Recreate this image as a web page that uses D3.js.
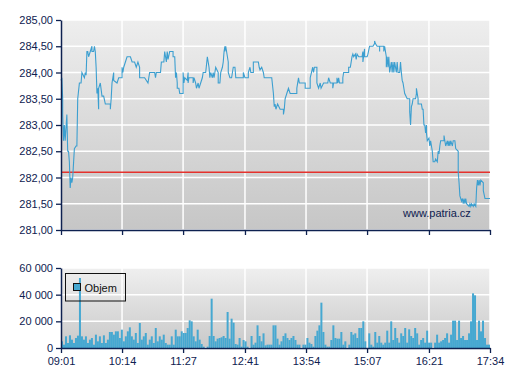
<!DOCTYPE html>
<html><head><meta charset="utf-8">
<script src="https://cdn.jsdelivr.net/npm/d3@7"></script>
<style>
body{margin:0;background:#fff}
svg{display:block;font-family:Arial,"Liberation Sans",sans-serif}
</style>
</head><body>
<svg id="c" width="507" height="380"></svg>
<script>
// ---- data ----
const times = [
"09:01","09:02","09:03","09:03","09:04","09:05","09:06","09:08","09:09","09:10",
"09:11","09:12","09:13","09:14","09:15","09:17","09:19","09:20","09:21","09:23",
"09:25","09:26","09:29","09:30","09:31","09:32","09:33","09:34","09:36","09:38",
"09:38","09:40","09:41","09:42","09:43","09:44","09:45","09:46","09:46","09:48",
"09:50","09:52","09:54","10:00","10:00","10:01","10:02","10:04","10:04","10:08",
"10:10","10:14","10:14","10:15","10:16","10:18","10:20","10:24","10:26","10:29",
"10:31","10:33","10:35","10:35","10:41","10:45","10:46","10:47","10:53","10:54",
"10:55","11:00","11:01","11:04","11:05","11:07","11:08","11:09","11:11","11:15",
"11:15","11:17","11:18","11:19","11:20","11:20","11:22","11:23","11:27","11:27",
"11:28","11:29","11:32","11:33","11:33","11:34","11:39","11:39","11:40","11:42",
"11:43","11:45","11:46","11:48","11:50","11:51","11:54","11:56","11:57","11:58",
"11:59","12:00","12:02","12:03","12:04","12:05","12:06","12:09","12:09","12:11",
"12:12","12:14","12:15","12:16","12:17","12:17","12:18","12:19","12:21","12:21",
"12:23","12:25","12:27","12:29","12:30","12:39","12:39","12:41","12:45","12:45",
"12:47","12:48","12:51","12:51","12:57","12:58","12:59","13:01","13:03","13:04",
"13:13","13:15","13:16","13:17","13:18","13:20","13:23","13:27","13:27","13:28",
"13:29","13:31","13:33","13:35","13:43","13:43","13:45","13:46","13:53","13:53",
"13:59","13:59","14:02","14:03","14:04","14:07","14:07","14:09","14:11","14:12",
"14:15","14:20","14:21","14:23","14:26","14:26","14:27","14:31","14:31","14:32",
"14:33","14:34","14:38","14:38","14:39","14:45","14:45","14:47","14:49","14:50",
"14:51","14:53","14:54","14:55","14:57","15:01","15:02","15:02","15:04","15:04",
"15:07","15:08","15:10","15:14","15:16","15:16","15:17","15:19","15:22","15:22",
"15:22","15:27","15:27","15:28","15:30","15:30","15:31","15:32","15:33","15:34",
"15:36","15:37","15:38","15:39","15:40","15:42","15:43","15:44","15:46","15:47",
"15:48","15:49","15:50","15:51","15:52","15:55","15:58","15:58","15:59","16:00",
"16:01","16:02","16:05","16:06","16:06","16:07","16:08","16:08","16:12","16:13",
"16:14","16:15","16:16","16:17","16:18","16:18","16:19","16:21","16:22","16:23",
"16:25","16:26","16:28","16:29","16:31","16:32","16:33","16:34","16:35","16:39",
"16:39","16:40","16:41","16:43","16:44","16:45","16:46","16:47","16:49","16:50",
"16:52","16:53","16:56","16:56","16:57","16:58","17:00","17:01","17:02","17:03",
"17:04","17:05","17:06","17:09","17:10","17:11","17:12","17:14","17:15","17:17",
"17:18","17:19","17:20","17:21","17:22","17:23","17:26","17:26","17:28","17:34"
];
const prices = [
283.85,283.9,283.5,283.2,282.7,283.0,282.7,283.2,282.5,282.5,
282.3,281.8,282.0,281.9,282.0,282.55,282.6,282.6,283.5,283.8,
283.8,284.0,283.9,284.0,283.95,284.4,284.4,284.3,284.4,284.5,
284.4,284.4,284.5,284.4,284.1,283.6,283.7,283.3,283.7,283.8,
283.55,283.55,283.4,283.4,283.3,283.5,283.8,284.0,283.85,283.8,
283.9,283.9,284.1,284.0,284.1,284.2,284.3,284.3,284.2,284.2,
284.1,284.2,284.1,283.9,283.9,283.8,283.9,284.0,284.0,283.9,
284.0,284.0,284.2,284.2,284.4,284.2,284.4,284.25,284.4,284.4,
284.3,284.3,283.9,284.0,283.8,283.7,283.7,283.6,283.6,284.0,
283.8,283.9,283.85,284.0,283.8,283.9,283.9,283.8,283.9,283.8,
283.7,283.8,283.7,283.8,283.9,284.0,284.0,284.3,284.2,284.1,
283.9,284.0,283.9,284.0,283.9,284.0,284.1,284.0,283.8,283.8,
284.0,284.1,284.2,284.4,284.5,284.4,284.5,284.4,284.2,284.0,
283.9,283.9,284.1,284.1,283.9,283.9,284.0,283.9,283.9,284.0,
284.1,284.0,284.0,284.2,284.2,284.1,284.05,284.1,284.0,283.9,
283.9,283.6,283.35,283.4,283.3,283.4,283.3,283.3,283.2,283.3,
283.5,283.6,283.7,283.6,283.6,283.7,283.9,283.8,283.8,283.7,
283.7,283.9,284.1,284.0,284.1,284.1,283.8,283.7,283.8,283.7,
283.8,283.8,283.9,283.8,283.8,283.7,283.8,283.8,283.9,283.8,
283.9,283.8,283.8,283.9,284.0,284.0,284.1,284.1,284.3,284.35,
284.3,284.35,284.25,284.35,284.3,284.3,284.4,284.2,284.45,284.3,
284.3,284.35,284.5,284.5,284.55,284.6,284.55,284.5,284.5,284.4,
284.5,284.5,284.4,284.5,284.3,284.1,284.3,284.1,284.3,284.0,
284.2,284.0,284.2,284.0,284.2,284.0,284.2,284.0,284.0,284.2,
284.0,283.85,283.8,283.7,283.6,283.5,283.5,283.25,283.0,283.35,
283.4,283.5,283.5,283.6,283.7,283.6,283.5,283.4,283.4,283.3,
283.3,283.0,283.0,282.85,283.0,282.85,282.7,282.75,282.6,282.7,
282.5,282.3,282.3,282.35,282.3,282.5,282.45,282.6,282.7,282.7,
282.8,282.7,282.6,282.7,282.6,282.7,282.6,282.7,282.6,282.7,
282.7,282.55,282.5,282.1,281.9,281.65,281.55,281.6,281.5,281.6,
281.5,281.6,281.5,281.45,281.5,281.45,281.5,281.45,281.5,281.45,
281.8,281.95,281.85,281.95,281.85,281.95,281.9,281.75,281.6,281.6
];
const volumes = [
5000,2500,8750,3750,9500,6250,3750,7500,9250,52500,
8750,6250,8750,3750,6250,7500,2500,10000,5000,8750,
3750,9500,3750,6250,12000,12000,10000,12500,12500,7500,
13750,5000,8750,12500,15500,8750,6250,11250,3750,18750,
6250,8750,11250,2500,6250,8750,3750,15000,5000,8750,
6250,10000,3750,2500,2500,8750,2500,13750,8750,8750,
12500,11250,11250,15000,20750,20000,8750,5000,13750,6250,
3000,1000,0,1000,9000,37000,9000,5000,7000,7500,
8000,9000,7500,27000,7000,22000,19000,3000,2500,7500,
1000,6000,5000,1000,0,9000,2500,4000,17000,9000,
5000,11000,2000,2500,2500,2500,17000,17000,7000,2500,
5000,9000,11000,7500,6000,7500,9000,6000,2500,2500,
0,2500,2500,7500,4000,3000,1000,9000,13000,17000,
34000,12000,2500,1000,1000,6000,17000,7500,7000,7000,
12000,2500,
5000,0,2500,12000,10000,11000,7500,15000,15000,20000,
5000,0,11000,2500,1000,12000,4000,9000,4000,2500,
4000,13000,4000,20000,6000,15000,7500,4000,11000,9000,
15000,4000,14000,9000,7500,15000,11000,2500,6000,7500,
4000,13000,4000,4000,0,4000,10000,4000,5000,6000,
7500,11000,4000,10000,20500,20500,6000,20500,7500,9000,
6000,6000,11000,20000,41000,39500,6000,20500,12500,20500,
7500,2500,2500
];
const timeTicks = ["09:01","10:14","11:27","12:41","13:54","15:07","16:21","17:34"];
const priceTicks = [281,281.5,282,282.5,283,283.5,284,284.5,285];
const volumeTicks = [0,20000,40000,60000];
const referencePrice = 282.10;
const legendLabel = "Objem";
const watermark = "www.patria.cz";

// ---- layout ----
const navy = "#0e2150";
const lineColor = "#3c9fd0";
const barColor = "#46a8d1";
const L = 61, R = 490;
const pTop = 20, pBot = 230;
const vTop = 268, vBot = 348;

const parse = d3.timeParse("%H:%M");
const x = d3.scaleTime().domain([parse(timeTicks[0]), parse(timeTicks[timeTicks.length-1])]).range([L, R]);
const y = d3.scaleLinear().domain([281, 285]).range([pBot, pTop]);
const yv = d3.scaleLinear().domain([0, 60000]).range([vBot, vTop]);
const band = d3.scaleBand().domain(d3.range(volumes.length)).range([L, R]).padding(0);

const svg = d3.select("#c");
const defs = svg.append("defs");
function grad(id, c0, c1) {
  const g = defs.append("linearGradient").attr("id", id).attr("x1", 0).attr("y1", 0).attr("x2", 0).attr("y2", 1);
  g.append("stop").attr("offset", "0%").attr("stop-color", c0);
  g.append("stop").attr("offset", "100%").attr("stop-color", c1);
}
grad("gTop", "#eeeeee", "#c6c6c6");
grad("gBot", "#efefef", "#c9c9c9");

svg.append("rect").attr("x", L).attr("y", pTop).attr("width", R - L).attr("height", pBot - pTop).attr("fill", "url(#gTop)");
svg.append("rect").attr("x", L).attr("y", vTop).attr("width", R - L).attr("height", vBot - vTop).attr("fill", "url(#gBot)");

const tickDates = timeTicks.map(parse);

// grid top
const gTopGrid = svg.append("g").attr("stroke", "#fff").attr("stroke-width", 1.5);
gTopGrid.selectAll(".h").data(priceTicks).join("line")
  .attr("x1", L).attr("x2", R).attr("y1", d => y(d)).attr("y2", d => y(d));
gTopGrid.selectAll(".v").data(tickDates.slice(1)).join("line")
  .attr("x1", d => x(d)).attr("x2", d => x(d)).attr("y1", pTop).attr("y2", pBot);

// grid bottom
const gBotGrid = svg.append("g").attr("stroke", "#fff").attr("stroke-width", 1.5);
gBotGrid.selectAll(".h").data(volumeTicks).join("line")
  .attr("x1", L).attr("x2", R).attr("y1", d => yv(d)).attr("y2", d => yv(d));
gBotGrid.selectAll(".v").data(tickDates.slice(1)).join("line")
  .attr("x1", d => x(d)).attr("x2", d => x(d)).attr("y1", vTop).attr("y2", vBot);

// reference line
svg.append("line").attr("x1", L).attr("x2", R)
  .attr("y1", y(referencePrice)).attr("y2", y(referencePrice))
  .attr("stroke", "#e5322d").attr("stroke-width", 1.5);

// watermark
svg.append("text").attr("x", 403).attr("y", 216.5).attr("fill", navy)
  .attr("font-size", "11px").text(watermark);

// price line
const pts = times.map((t, i) => ({t: parse(t), p: prices[i]}));
svg.append("path").datum(pts)
  .attr("fill", "none").attr("stroke", lineColor).attr("stroke-width", 1.1)
  .attr("d", d3.line().x(d => x(d.t)).y(d => y(d.p)));

// volume bars
svg.append("g").selectAll("rect").data(volumes).join("rect")
  .attr("x", (d, i) => band(i)).attr("width", band.bandwidth())
  .attr("y", d => yv(d)).attr("height", d => yv(0) - yv(d))
  .attr("fill", barColor);

// axes
const priceFmt = d => d3.format(".2f")(d).replace(".", ",");
const loc = d3.formatLocale({decimal: ",", thousands: " ", grouping: [3], currency: ["", ""]});
const volFmt = loc.format(",");

function styleAxis(g) {
  g.select(".domain").attr("stroke", navy).attr("stroke-width", 1.5);
  g.selectAll(".tick line").attr("stroke", navy).attr("stroke-width", 1.3);
  g.selectAll(".tick text").attr("fill", navy).attr("font-size", "11px").attr("font-family", "Arial, 'Liberation Sans', sans-serif");
}

svg.append("g").attr("transform", `translate(${L},0)`)
  .call(d3.axisLeft(y).tickValues(priceTicks).tickFormat(priceFmt).tickSize(5).tickSizeOuter(0).tickPadding(3))
  .call(styleAxis);
svg.append("g").attr("transform", `translate(0,${pBot})`)
  .call(d3.axisBottom(x).tickValues(tickDates).tickFormat("").tickSize(5).tickSizeOuter(0))
  .call(styleAxis);

svg.append("g").attr("transform", `translate(${L},0)`)
  .call(d3.axisLeft(yv).tickValues(volumeTicks).tickFormat(volFmt).tickSize(5).tickSizeOuter(0).tickPadding(3))
  .call(styleAxis);
svg.append("g").attr("transform", `translate(0,${vBot})`)
  .call(d3.axisBottom(x).tickValues(tickDates).tickFormat(d3.timeFormat("%H:%M")).tickSize(5).tickSizeOuter(0).tickPadding(4))
  .call(styleAxis);

// legend
const lg = svg.append("g");
lg.append("rect").attr("x", 65.5).attr("y", 273.5).attr("width", 60).attr("height", 27.5)
  .attr("fill", "none").attr("stroke", "#111").attr("stroke-width", 1);
lg.append("rect").attr("x", 73.5).attr("y", 283.5).attr("width", 7).attr("height", 7)
  .attr("fill", barColor).attr("stroke", "#111").attr("stroke-width", 1);
lg.append("text").attr("x", 84.5).attr("y", 291.5).attr("font-size", "11px").attr("fill", "#111").text(legendLabel);
</script>
</body></html>
